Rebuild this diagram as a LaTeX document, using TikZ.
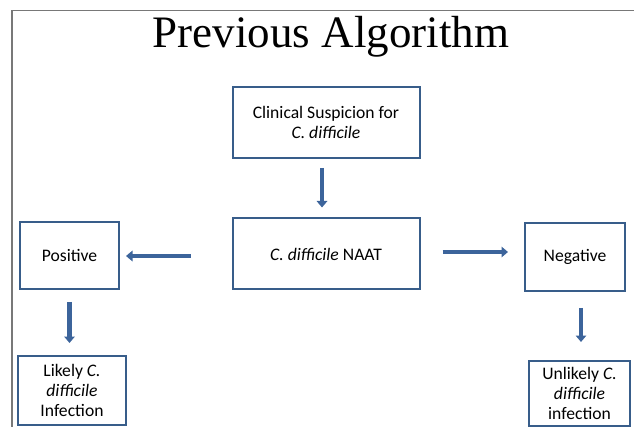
\documentclass[tikz,border=0pt]{standalone}
\usepackage{fontspec}
\setmainfont{Carlito}
\newfontfamily\titlefont{Liberation Serif}
\usetikzlibrary{arrows.meta}
\definecolor{boxblue}{RGB}{56,93,138}
\definecolor{arrowblue}{RGB}{60,100,155}
\definecolor{framegray}{RGB}{120,120,120}
\tikzset{
  flowbox/.style={draw=boxblue, line width=2pt, fill=white, align=center,
    inner sep=0pt, font=\fontsize{17.6}{20}\selectfont},
  arr/.style={draw=arrowblue, line width=4.4pt,
    -{Triangle[width=10.5pt,length=6.5pt]}},
  framel/.style={draw=framegray, line width=1.3pt}
}
\begin{document}
\begin{tikzpicture}[x=1pt,y=-1pt]
\useasboundingbox (0,0) rectangle (634,427);
\coordinate (fa) at (634,10.5);
\coordinate (fb) at (12,10.5);
\coordinate (fc) at (12,427);
\draw[framel] (fa) -- (fb) -- (fc);
\node[anchor=base, font=\titlefont\fontsize{45}{48}\selectfont] (title) at (331,48) {Previous Algorithm};
\node[flowbox, minimum width=187pt, minimum height=71pt] (top) at (326,122.5)
  {Clinical Suspicion for\\ \textit{C. difficile}};
\node[flowbox, minimum width=187pt, minimum height=71pt] (mid) at (326,254)
  {\textit{C. difficile} NAAT};
\node[flowbox, minimum width=99pt, minimum height=67pt] (pos) at (69.5,255.5)
  {Positive};
\node[flowbox, minimum width=100pt, minimum height=68pt] (neg) at (575,257)
  {Negative};
\node[flowbox, minimum width=108pt, minimum height=69pt] (likely) at (72,390.5)
  {Likely \textit{C.}\\ \textit{difficile}\\ Infection};
\node[flowbox, minimum width=101pt, minimum height=65pt] (unlikely) at (579.5,393.5)
  {Unlikely \textit{C.}\\ \textit{difficile}\\ infection};
\draw[arr, shorten <=9pt, shorten >=10pt] ([xshift=-4pt]top.south) -- ([xshift=-4pt]mid.north);
\draw[arr, shorten <=41pt, shorten >=6pt] ([yshift=-2pt]mid.west) -- ([yshift=-2pt]mid.west -| pos.east);
\draw[arr, shorten <=22pt, shorten >=16pt] ([yshift=2pt]mid.east) -- ([yshift=2pt]mid.east -| neg.west);
\draw[arr, shorten <=12pt, shorten >=12pt] (pos.south) -- (pos.south |- likely.north);
\draw[arr, shorten <=16pt, shorten >=18pt] ([xshift=6pt]neg.south) -- ([xshift=6pt]neg.south |- unlikely.north);
\end{tikzpicture}
\end{document}
